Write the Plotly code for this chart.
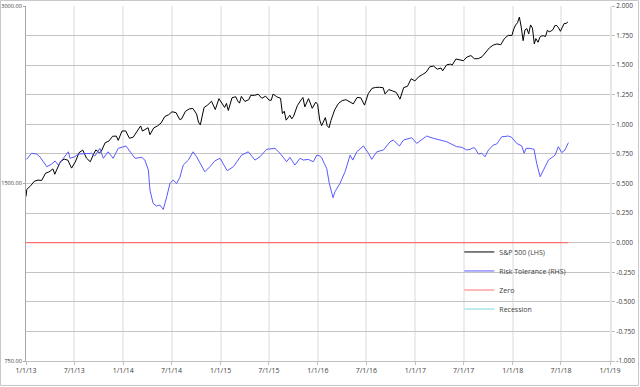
import plotly.graph_objects as go

# ---------------- data ----------------
spx_dates = [
    "2013-01-01", "2013-01-04", "2013-01-18", "2013-02-01", "2013-02-15", "2013-03-01", "2013-03-15",
    "2013-03-28", "2013-04-12", "2013-04-19", "2013-04-26", "2013-05-10", "2013-05-24", "2013-06-07",
    "2013-06-21", "2013-07-05", "2013-07-19", "2013-08-02", "2013-08-16", "2013-08-30", "2013-09-13",
    "2013-09-20", "2013-10-04", "2013-10-11", "2013-10-25", "2013-11-08", "2013-11-22", "2013-12-06",
    "2013-12-13", "2013-12-27",
    "2014-01-10", "2014-01-24", "2014-02-07", "2014-02-21", "2014-03-07", "2014-03-14", "2014-03-28",
    "2014-04-04", "2014-04-11", "2014-04-25", "2014-05-09", "2014-05-23", "2014-06-06", "2014-06-20",
    "2014-07-03", "2014-07-18", "2014-08-01", "2014-08-08", "2014-08-22", "2014-09-05", "2014-09-19",
    "2014-10-03", "2014-10-10", "2014-10-17", "2014-10-31", "2014-11-14", "2014-11-28", "2014-12-12",
    "2014-12-26",
    "2015-01-09", "2015-01-16", "2015-01-23", "2015-01-30", "2015-02-13", "2015-02-27", "2015-03-06",
    "2015-03-13", "2015-03-20", "2015-04-02", "2015-04-17", "2015-04-24", "2015-05-08", "2015-05-22",
    "2015-06-05", "2015-06-19", "2015-07-02", "2015-07-10", "2015-07-17", "2015-07-31", "2015-08-14",
    "2015-08-21", "2015-08-28", "2015-09-04", "2015-09-18", "2015-09-25", "2015-10-02", "2015-10-16",
    "2015-10-30", "2015-11-06", "2015-11-13", "2015-11-27", "2015-12-11", "2015-12-24", "2015-12-31",
    "2016-01-08", "2016-01-15", "2016-01-22", "2016-01-29", "2016-02-05", "2016-02-12", "2016-02-19",
    "2016-03-04", "2016-03-18", "2016-04-01", "2016-04-15", "2016-04-29", "2016-05-13", "2016-05-27",
    "2016-06-10", "2016-06-24", "2016-07-08", "2016-07-22", "2016-08-05", "2016-08-19", "2016-09-02",
    "2016-09-09", "2016-09-23", "2016-10-07", "2016-10-21", "2016-11-04", "2016-11-18", "2016-12-02",
    "2016-12-16", "2016-12-30",
    "2017-01-13", "2017-01-27", "2017-02-10", "2017-02-24", "2017-03-10", "2017-03-24", "2017-04-07",
    "2017-04-13", "2017-04-28", "2017-05-12", "2017-05-19", "2017-06-02", "2017-06-16", "2017-06-30",
    "2017-07-14", "2017-07-28", "2017-08-11", "2017-08-25", "2017-09-08", "2017-09-22", "2017-10-06",
    "2017-10-20", "2017-11-03", "2017-11-17", "2017-12-01", "2017-12-15", "2017-12-29",
    "2018-01-05", "2018-01-12", "2018-01-19", "2018-01-26", "2018-02-02", "2018-02-09", "2018-02-16",
    "2018-02-23", "2018-03-02", "2018-03-09", "2018-03-16", "2018-03-23", "2018-03-29", "2018-04-06",
    "2018-04-13", "2018-04-20", "2018-04-27", "2018-05-04", "2018-05-11", "2018-05-18", "2018-05-25",
    "2018-06-01", "2018-06-08", "2018-06-15", "2018-06-22", "2018-06-29", "2018-07-06", "2018-07-13",
    "2018-07-20", "2018-07-27",
]
spx_values = [
    1426, 1466, 1486, 1513, 1520, 1518, 1561,
    1569, 1588, 1555, 1582, 1633, 1650, 1643,
    1593, 1632, 1692, 1709, 1656, 1633, 1688,
    1710, 1690, 1703, 1759, 1770, 1804, 1805,
    1775, 1841,
    1842, 1790, 1797, 1836, 1878, 1841, 1857,
    1865, 1815, 1863, 1878, 1900, 1949, 1962,
    1985, 1978, 1925, 1931, 1988, 2007, 2011,
    1968, 1906, 1886, 2018, 2039, 2068, 2002,
    2089,
    2044, 2019, 2051, 1995, 2097, 2105, 2071,
    2053, 2108, 2067, 2081, 2117, 2116, 2126,
    2092, 2110, 2077, 2076, 2127, 2104, 2092,
    1971, 1989, 1921, 1958, 1931, 1951, 2033,
    2079, 2099, 2023, 2090, 2012, 2061, 2044,
    1922, 1880, 1907, 1940, 1880, 1865, 1918,
    2000, 2050, 2073, 2081, 2065, 2047, 2099,
    2096, 2037, 2130, 2175, 2183, 2184, 2180,
    2128, 2165, 2153, 2141, 2085, 2182, 2192,
    2258, 2239,
    2275, 2295, 2316, 2367, 2373, 2344, 2355,
    2329, 2384, 2391, 2382, 2439, 2433, 2423,
    2459, 2472, 2441, 2443, 2461, 2502, 2549,
    2575, 2587, 2579, 2642, 2675, 2674,
    2743, 2786, 2810, 2873, 2762, 2620, 2732,
    2747, 2691, 2786, 2752, 2588, 2641, 2604,
    2656, 2670, 2670, 2663, 2728, 2713, 2721,
    2735, 2779, 2780, 2755, 2718, 2760, 2801,
    2802, 2819,
]

risk_dates = [
    "2013-01-03", "2013-01-22", "2013-02-10", "2013-02-22", "2013-03-20", "2013-04-07", "2013-04-20",
    "2013-05-02", "2013-05-21", "2013-06-09", "2013-06-15", "2013-07-03", "2013-07-16", "2013-08-16",
    "2013-09-04", "2013-09-16", "2013-10-05", "2013-10-18", "2013-11-05", "2013-11-24", "2013-12-13",
    "2014-01-11", "2014-02-01", "2014-02-14", "2014-03-11", "2014-03-23", "2014-04-05", "2014-04-11",
    "2014-04-23", "2014-05-06", "2014-05-18", "2014-05-31", "2014-06-13", "2014-06-25", "2014-07-07",
    "2014-07-20", "2014-08-01", "2014-08-14", "2014-09-02", "2014-09-20", "2014-10-03", "2014-10-22",
    "2014-11-03", "2014-11-22", "2014-12-11", "2014-12-30",
    "2015-01-11", "2015-01-26", "2015-02-18", "2015-03-08", "2015-03-21", "2015-04-15", "2015-05-10",
    "2015-05-29", "2015-06-23", "2015-07-24", "2015-08-12", "2015-09-06", "2015-09-18", "2015-10-07",
    "2015-10-26", "2015-11-07", "2015-11-26", "2015-12-15", "2015-12-28",
    "2016-01-06", "2016-01-15", "2016-01-25", "2016-02-03", "2016-02-13", "2016-02-27", "2016-03-05",
    "2016-03-24", "2016-04-12", "2016-05-01", "2016-05-11", "2016-05-26", "2016-06-20", "2016-07-09",
    "2016-07-21", "2016-08-09", "2016-09-03", "2016-09-28", "2016-10-10", "2016-11-02", "2016-11-17",
    "2016-12-18",
    "2017-01-06", "2017-01-25", "2017-02-12", "2017-03-09", "2017-04-28", "2017-06-05", "2017-06-24",
    "2017-07-12", "2017-07-25", "2017-08-06", "2017-08-13", "2017-08-25", "2017-09-07", "2017-09-19",
    "2017-10-02", "2017-10-20", "2017-11-02", "2017-11-21", "2017-12-16", "2017-12-28",
    "2018-01-16", "2018-02-04", "2018-02-13", "2018-02-20", "2018-03-07", "2018-03-22", "2018-04-01",
    "2018-04-14", "2018-04-29", "2018-05-15", "2018-06-09", "2018-06-21", "2018-07-04", "2018-07-16",
    "2018-07-29",
]
risk_values = [
    0.704, 0.755, 0.749, 0.726, 0.642, 0.664, 0.690,
    0.656, 0.713, 0.768, 0.713, 0.726, 0.749, 0.749,
    0.755, 0.732, 0.797, 0.713, 0.768, 0.713, 0.797,
    0.817, 0.755, 0.713, 0.721, 0.698, 0.614, 0.445,
    0.332, 0.309, 0.318, 0.281, 0.388, 0.500, 0.530,
    0.500, 0.550, 0.656, 0.698, 0.768, 0.726, 0.642,
    0.599, 0.642, 0.692, 0.713,
    0.670, 0.608, 0.642, 0.698, 0.740, 0.768, 0.698,
    0.726, 0.789, 0.797, 0.755, 0.684, 0.721, 0.656,
    0.713, 0.698, 0.704, 0.684, 0.740,
    0.735, 0.720, 0.670, 0.628, 0.500, 0.380, 0.430,
    0.501, 0.599, 0.740, 0.698, 0.768, 0.817, 0.755,
    0.704, 0.768, 0.783, 0.853, 0.867, 0.817, 0.867,
    0.887,
    0.839, 0.867, 0.901, 0.882, 0.853, 0.811, 0.806,
    0.783, 0.789, 0.802, 0.797, 0.749, 0.755, 0.726,
    0.783, 0.825, 0.834, 0.895, 0.901, 0.890,
    0.839, 0.817, 0.755, 0.797, 0.797, 0.789, 0.670,
    0.557, 0.628, 0.698, 0.740, 0.811, 0.761, 0.783,
    0.845,
]

zero_dates = ["2013-01-01", "2018-07-29"]
zero_values = [0, 0]

x_tick_dates = ["2013-01-01", "2013-07-01", "2014-01-01", "2014-07-01", "2015-01-01", "2015-07-01",
                "2016-01-01", "2016-07-01", "2017-01-01", "2017-07-01", "2018-01-01", "2018-07-01",
                "2019-01-01"]
x_tick_labels = ["1/1/13", "7/1/13", "1/1/14", "7/1/14", "1/1/15", "7/1/15", "1/1/16", "7/1/16",
                 "1/1/17", "7/1/17", "1/1/18", "7/1/18", "1/1/19"]
left_ticks = [750, 1500, 3000]
left_labels = ["750.00", "1500.00", "3000.00"]
right_ticks = [-1.0, -0.75, -0.5, -0.25, 0.0, 0.25, 0.5, 0.75, 1.0, 1.25, 1.5, 1.75, 2.0]
right_labels = ["-1.000", "-0.750", "-0.500", "-0.250", "0.000", "0.250", "0.500", "0.750",
                "1.000", "1.250", "1.500", "1.750", "2.000"]

# ---------------- figure ----------------
W, H = 640, 387
ML, MR, MT, MB = 26, 30, 6, 26
FONT = "Open Sans"
TXT = "#404040"

fig = go.Figure()
fig.add_trace(go.Scatter(x=spx_dates, y=spx_values, mode="lines", name="S&P 500 (LHS)",
                         line=dict(color="#000000", width=1), yaxis="y"))
fig.add_trace(go.Scatter(x=risk_dates, y=risk_values, mode="lines", name="Risk Tolerance (RHS)",
                         line=dict(color="#5a5aff", width=1), yaxis="y2"))
fig.add_trace(go.Scatter(x=zero_dates, y=zero_values, mode="lines", name="Zero",
                         line=dict(color="#ff7070", width=1.1), yaxis="y2"))
fig.add_trace(go.Scatter(x=[None], y=[None], mode="lines", name="Recession",
                         line=dict(color="#7fd8d8", width=1.1), yaxis="y2"))

pw = W - ML - MR
ph = H - MT - MB
fig.add_shape(type="rect", xref="paper", yref="paper",
              x0=(-ML + 0.5) / pw, x1=(pw + MR - 1.5) / pw,
              y0=(-MB + 1.5) / ph, y1=(ph + MT - 0.5) / ph,
              line=dict(color="#c8c8c8", width=1), layer="below")

fig.update_layout(
    width=W, height=H,
    margin=dict(l=ML, r=MR, t=MT, b=MB, pad=0, autoexpand=False),
    paper_bgcolor="white", plot_bgcolor="white",
    font=dict(family=FONT, size=7, color=TXT),
    showlegend=True,
    legend=dict(x=0.742, y=0.348, xanchor="left", yanchor="top",
                bgcolor="rgba(0,0,0,0)", font=dict(size=7, color=TXT),
                tracegroupgap=0, itemwidth=30),
    xaxis=dict(type="date", range=["2013-01-01", "2019-01-01"], automargin=False,
               tickvals=x_tick_dates, ticktext=x_tick_labels,
               showgrid=True, gridcolor="#ececec", gridwidth=2,
               ticks="outside", ticklen=3, tickcolor="#bfbfbf",
               showline=True, linecolor="#bfbfbf", linewidth=1,
               zeroline=False, tickfont=dict(size=7, color=TXT)),
    yaxis=dict(type="log", range=[2.8750612633917, 3.4771212547197], automargin=False,
               tickvals=left_ticks, ticktext=left_labels,
               showgrid=False, zeroline=False,
               showline=True, linecolor="#a6a6a6", linewidth=1,
               ticks="outside", ticklen=2, tickcolor="#a6a6a6",
               tickfont=dict(size=5.6, color=TXT)),
    yaxis2=dict(overlaying="y", side="right", range=[-1, 2], automargin=False,
                tickvals=right_ticks, ticktext=right_labels,
                showgrid=True, gridcolor="#c4c4c4", gridwidth=1,
                zeroline=False, showline=True, linecolor="#e6e6e6", linewidth=2,
                ticks="outside", ticklen=3, tickcolor="#bfbfbf",
                tickfont=dict(size=6.5, color=TXT)),
)

fig.write_html("out.html", config=dict(displayModeBar=False),
               post_script="document.body.style.margin='0px';document.body.style.padding='0px';"
                           "document.body.style.overflow='hidden';")
